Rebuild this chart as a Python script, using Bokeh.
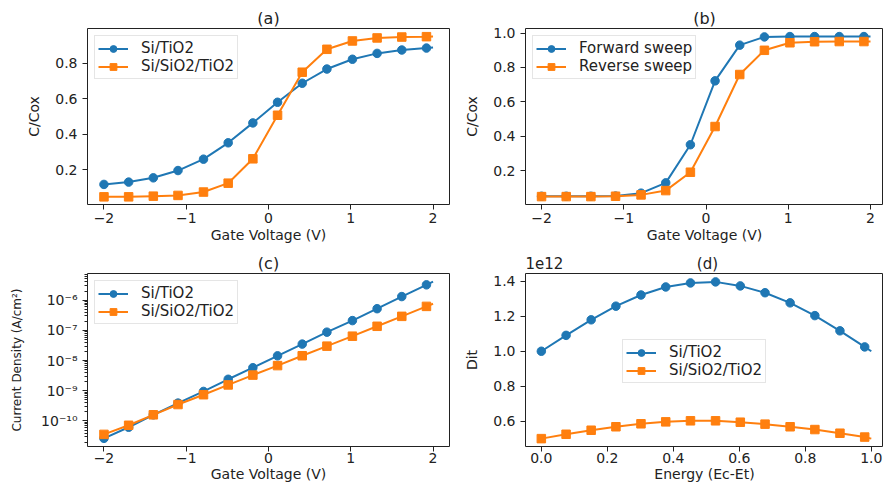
from bokeh.plotting import figure
from bokeh.layouts import gridplot
from bokeh.models import (Legend, LegendItem, FixedTicker, CustomJSTickFormatter,
                          Range1d)
from bokeh.embed import file_html
from bokeh.resources import INLINE

# ---------------- data ----------------
# gate-voltage sample points (markers); the last value is the line end point
gate_v = [-2.0, -1.70, -1.40, -1.10, -0.79, -0.49, -0.19, 0.11, 0.41, 0.71,
          1.02, 1.32, 1.62, 1.92, 2.0]

# (a) C/Cox vs gate voltage
a_si_tio2 = [0.118, 0.131, 0.155, 0.196, 0.260, 0.352, 0.464, 0.580, 0.687,
             0.767, 0.822, 0.855, 0.874, 0.885, 0.888]
a_si_sio2_tio2 = [0.048, 0.048, 0.052, 0.056, 0.075, 0.125, 0.262, 0.507,
                  0.749, 0.878, 0.925, 0.942, 0.947, 0.949, 0.950]

# (b) hysteresis C/Cox
b_forward = [0.050, 0.050, 0.050, 0.051, 0.068, 0.128, 0.350, 0.722, 0.930,
             0.978, 0.980, 0.980, 0.980, 0.980, 0.980]
b_reverse = [0.048, 0.048, 0.048, 0.050, 0.058, 0.083, 0.190, 0.456, 0.759,
             0.900, 0.944, 0.950, 0.951, 0.951, 0.951]

# (c) current density (A/cm^2)
c_si_tio2 = [2.66e-11, 6.2e-11, 1.6e-10, 3.9e-10, 9.5e-10, 2.4e-9, 5.8e-9,
             1.43e-8, 3.5e-8, 8.7e-8, 2.1e-7, 5.2e-7, 1.31e-6, 3.2e-6, 4.1e-6]
c_si_sio2_tio2 = [3.6e-11, 7.2e-11, 1.6e-10, 3.5e-10, 7.4e-10, 1.56e-9, 3.3e-9,
                  6.8e-9, 1.44e-8, 3.0e-8, 6.4e-8, 1.36e-7, 2.9e-7, 6.2e-7, 7.6e-7]

# (d) Dit vs energy, values in units of 1e12
energy = [0.0, 0.075, 0.151, 0.226, 0.302, 0.377, 0.452, 0.528, 0.603, 0.678,
          0.754, 0.829, 0.905, 0.980, 1.0]
d_si_tio2 = [1.000, 1.091, 1.180, 1.258, 1.322, 1.368, 1.391, 1.397, 1.374,
             1.335, 1.277, 1.204, 1.117, 1.025, 1.000]
d_si_sio2_tio2 = [0.500, 0.525, 0.548, 0.568, 0.585, 0.596, 0.602, 0.602,
                  0.594, 0.583, 0.568, 0.552, 0.531, 0.509, 0.500]
d_scale_text = "1e12"

gate_ticks = [-2, -1, 0, 1, 2]
energy_ticks = [0.0, 0.2, 0.4, 0.6, 0.8, 1.0]
a_yticks = [0.2, 0.4, 0.6, 0.8]
b_yticks = [0.2, 0.4, 0.6, 0.8, 1.0]
d_yticks = [0.6, 0.8, 1.0, 1.2, 1.4]

titles = ["(a)", "(b)", "(c)", "(d)"]
labels_ab = ["Si/TiO2", "Si/SiO2/TiO2"]
labels_sweep = ["Forward sweep", "Reverse sweep"]

# ---------------- styling ----------------
FONT = "DejaVu Sans"
BLUE = "#1f77b4"
ORANGE = "#ff7f0e"
INK = "#222222"

fmt_int = CustomJSTickFormatter(code=r"return tick.toFixed(0).replace('-', '\u2212');")
fmt_1 = CustomJSTickFormatter(code=r"return tick.toFixed(1).replace('-', '\u2212');")
fmt_log = CustomJSTickFormatter(code=r"""
const e = Math.round(Math.log10(tick));
const sup = {'-':'\u207b','0':'\u2070','1':'\u00b9','2':'\u00b2','3':'\u00b3','4':'\u2074',
             '5':'\u2075','6':'\u2076','7':'\u2077','8':'\u2078','9':'\u2079'};
return '10' + String(e).split('').map(c => sup[c]).join('');
""")


def make_fig(title, width, height, left, right, top, bottom, xr, yr,
             y_type="linear", tick_standoff=1, label_standoff=0):
    p = figure(width=width, height=height, x_range=Range1d(*xr), y_range=Range1d(*yr),
               y_axis_type=y_type, output_backend="svg", toolbar_location=None,
               min_border_left=left, min_border_right=right,
               min_border_top=top, min_border_bottom=bottom)
    p.xgrid.visible = False
    p.ygrid.visible = False
    p.outline_line_color = INK
    p.outline_line_width = 1
    p.background_fill_color = "white"
    p.border_fill_color = "white"
    p.title.text = title
    p.title.align = "center"
    p.title.text_font = FONT
    p.title.text_font_size = "16px"
    p.title.text_font_style = "normal"
    p.title.text_color = INK
    p.title.standoff = 2
    for ax in (p.xaxis[0], p.yaxis[0]):
        ax.axis_line_color = None
        ax.major_tick_line_color = INK
        ax.major_tick_out = 5
        ax.major_tick_in = 0
        ax.minor_tick_line_color = None
        ax.major_label_text_font = FONT
        ax.major_label_text_font_size = "14px"
        ax.major_label_text_color = INK
        ax.axis_label_text_font = FONT
        ax.axis_label_text_font_size = "14px"
        ax.axis_label_text_font_style = "normal"
        ax.axis_label_text_color = INK
    p.xaxis[0].major_label_standoff = tick_standoff
    p.xaxis[0].axis_label_standoff = label_standoff
    p.yaxis[0].major_label_standoff = 5
    p.yaxis[0].axis_label_standoff = 10
    return p


def add_series(p, x, y, color, marker):
    ln = p.line(x, y, line_color=color, line_width=2)
    sc = p.scatter(x[:-1], y[:-1], marker=marker, size=8.5, fill_color=color,
                   line_color=color, line_width=1)
    return [ln, sc]


def add_legend(p, items, location):
    leg = Legend(items=[LegendItem(label=lab, renderers=r) for lab, r in items],
                 location=location)
    leg.glyph_width = 30
    leg.glyph_height = 17
    leg.label_height = 17
    leg.label_standoff = 13
    leg.spacing = 0
    leg.padding = 3
    leg.margin = 7
    leg.label_text_font = FONT
    leg.label_text_font_size = "15px"
    leg.label_text_color = INK
    leg.border_line_color = "#cccccc"
    leg.border_line_width = 1
    leg.background_fill_alpha = 0.8
    p.add_layout(leg)


W_L, W_R = 459, 424
H_1, H_2 = 250, 234

# (a)
pa = make_fig(titles[0], W_L, H_1, 87, 10, 28, 46, (-2.2, 2.2), (0.005, 0.995),
              tick_standoff=3, label_standoff=1)
r1 = add_series(pa, gate_v, a_si_tio2, BLUE, "circle")
r2 = add_series(pa, gate_v, a_si_sio2_tio2, ORANGE, "square")
add_legend(pa, [(labels_ab[0], r1), (labels_ab[1], r2)], "top_left")
pa.xaxis[0].axis_label = "Gate Voltage (V)"
pa.yaxis[0].axis_label = "C/Cox"
pa.xaxis[0].ticker = FixedTicker(ticks=gate_ticks)
pa.yaxis[0].ticker = FixedTicker(ticks=a_yticks)
pa.xaxis[0].formatter = fmt_int
pa.yaxis[0].formatter = fmt_1

# (b)
pb = make_fig(titles[1], W_R, H_1, 66, 0, 28, 46, (-2.195, 2.158), (0.002, 1.027),
              tick_standoff=3, label_standoff=1)
r1 = add_series(pb, gate_v, b_forward, BLUE, "circle")
r2 = add_series(pb, gate_v, b_reverse, ORANGE, "square")
add_legend(pb, [(labels_sweep[0], r1), (labels_sweep[1], r2)], "top_left")
pb.xaxis[0].axis_label = "Gate Voltage (V)"
pb.yaxis[0].axis_label = "C/Cox"
pb.xaxis[0].ticker = FixedTicker(ticks=gate_ticks)
pb.yaxis[0].ticker = FixedTicker(ticks=b_yticks)
pb.xaxis[0].formatter = fmt_int
pb.yaxis[0].formatter = fmt_1

# (c)
pc = make_fig(titles[2], W_L, H_2, 87, 10, 21, 37, (-2.2, 2.2), (1.43e-11, 7.6e-6),
              y_type="log")
r1 = add_series(pc, gate_v, c_si_tio2, BLUE, "circle")
r2 = add_series(pc, gate_v, c_si_sio2_tio2, ORANGE, "square")
add_legend(pc, [(labels_ab[0], r1), (labels_ab[1], r2)], "top_left")
pc.xaxis[0].axis_label = "Gate Voltage (V)"
pc.yaxis[0].axis_label = "Current Density (A/cm²)"
pc.yaxis[0].axis_label_text_font_size = "12px"
pc.yaxis[0].axis_label_standoff = 14
pc.xaxis[0].ticker = FixedTicker(ticks=gate_ticks)
pc.xaxis[0].formatter = fmt_int
pc.yaxis[0].formatter = fmt_log
pc.yaxis[0].minor_tick_line_color = INK
pc.yaxis[0].minor_tick_out = 3
pc.yaxis[0].minor_tick_in = 0

# (d) -- the "1e12" scale text shares the title line (left), "(d)" is centred
pd_ = make_fig(d_scale_text + "\u00a0" * 28 + titles[3], W_R, H_2, 66, 0, 21, 37,
               (-0.048, 1.037), (0.455, 1.445))
pd_.title.align = "left"
pd_.title.text_font_size = "15px"
r1 = add_series(pd_, energy, d_si_tio2, BLUE, "circle")
r2 = add_series(pd_, energy, d_si_sio2_tio2, ORANGE, "square")
add_legend(pd_, [(labels_ab[0], r1), (labels_ab[1], r2)], (97, 63))
pd_.xaxis[0].axis_label = "Energy (Ec-Et)"
pd_.yaxis[0].axis_label = "Dit"
pd_.xaxis[0].ticker = FixedTicker(ticks=energy_ticks)
pd_.yaxis[0].ticker = FixedTicker(ticks=d_yticks)
pd_.xaxis[0].formatter = fmt_1
pd_.yaxis[0].formatter = fmt_1

grid = gridplot([[pa, pb], [pc, pd_]], toolbar_location=None)

open("out.html", "w").write(file_html(grid, INLINE))
